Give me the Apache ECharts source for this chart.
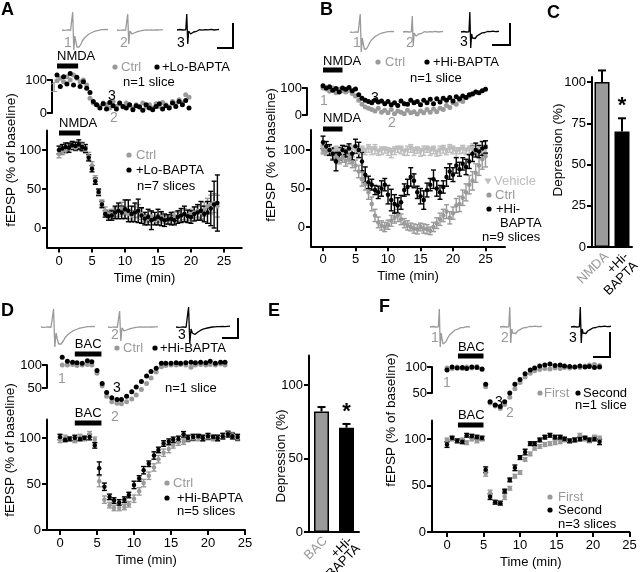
<!DOCTYPE html>
<html>
<head>
<meta charset="utf-8">
<script src="https://cdn.jsdelivr.net/npm/echarts@6/dist/echarts.min.js"></script>
<style>
  html, body { margin: 0; padding: 0; background: #fff; }
  #chart { width: 640px; height: 572px; }
</style>
</head>
<body>
<div id="chart"></div>
<script>
// ---- tick labels ----
const timeTicks = [0, 5, 10, 15, 20, 25];
const pctTicks = [0, 50, 100];

// ---- panel A, single slice (Ctrl / +Lo-BAPTA) ----
const aTopTime = [0,0.5,1,1.5,2,2.5,3,3.5,4,4.5,5,5.5,6,6.5,7,7.5,8,8.5,9,9.5,10,10.5,11,11.5,12,12.5,13,13.5,14,14.5,15,15.5,16,16.5,17,17.5,18,18.5,19,19.5,20];
const aTopCtrl = [98,105,95,110,100,115,105,95,100,85,45,30,25,20,30,25,15,35,20,28,18,30,22,15,25,20,30,18,25,15,28,20,32,25,18,35,28,40,30,55,48];
const aTopLo = [115,80,110,88,120,85,108,80,95,75,62,35,25,15,28,12,32,22,12,30,20,15,25,10,22,18,8,25,15,10,20,28,12,22,15,30,20,35,25,38,15];

// ---- panel A, n=7 slices ----
const aTime = [0,0.5,1,1.5,2,2.5,3,3.5,4,4.5,5,5.5,6,6.5,7,7.5,8,8.5,9,9.5,10,10.5,11,11.5,12,12.5,13,13.5,14,14.5,15,15.5,16,16.5,17,17.5,18,18.5,19,19.5,20,20.5,21,21.5,22,22.5,23,23.5,24];
const aCtrlMean = [95,98,100,102,104,103,105,106,100,92,80,62,45,32,22,18,18,20,22,25,20,18,16,20,22,18,14,12,15,10,12,14,11,10,12,15,14,16,18,16,18,20,22,20,24,28,30,32,28];
const aCtrlSem = [5,4,4,5,4,4,5,4,4,5,5,5,4,4,5,5,6,6,7,8,7,6,6,7,8,7,6,5,6,5,5,6,5,5,6,6,6,7,7,6,6,7,8,8,9,10,12,12,14];
const aLoMean = [100,102,104,103,106,105,107,104,102,90,76,60,46,30,18,15,16,20,22,20,24,22,18,20,22,16,12,14,10,12,14,12,10,11,12,10,14,16,18,15,14,18,20,22,18,20,25,30,32];
const aLoSem = [5,5,5,6,5,5,6,5,5,4,4,4,4,4,4,5,6,8,10,8,12,14,10,12,15,10,8,10,12,8,10,9,8,6,8,6,8,9,10,8,8,9,10,12,10,14,22,30,36];

// ---- panel B, single slice (Ctrl / +Hi-BAPTA) ----
const bTopTime = [0,0.5,1,1.5,2,2.5,3,3.5,4,4.5,5,5.5,6,6.5,7,7.5,8,8.5,9,9.5,10,10.5,11,11.5,12,12.5,13,13.5,14,14.5,15,15.5,16,16.5,17,17.5,18,18.5,19,19.5,20,20.5,21,21.5,22,22.5,23,23.5,24,24.5,25];
const bTopHi = [108,100,105,92,98,85,100,95,102,90,96,75,62,55,50,45,55,48,52,42,50,38,45,35,52,42,40,55,45,50,38,55,45,58,42,60,48,62,55,65,52,68,60,70,65,75,78,85,82,90,95];
const bTopCtrl = [100,96,88,100,82,95,90,85,92,80,70,55,40,30,25,20,15,25,10,18,8,20,5,15,10,5,18,8,12,4,15,8,20,10,22,12,25,20,35,28,45,40,55,50,65,70,80,85];

// ---- panel B, n=9 slices (Vehicle / Ctrl / +Hi-BAPTA) ----
const bTime = bTopTime;
const bVehMean = [102,98,100,97,101,99,96,100,98,101,99,97,100,98,102,99,101,97,99,100,98,96,99,101,100,97,99,102,98,100,97,99,101,98,100,96,99,101,98,102,100,97,99,101,98,100,102,99,101,98,100];
const bVehSem = [5,4,6,5,4,5,6,4,5,5,4,6,5,4,5,5,6,4,5,4,5,6,5,4,5,4,6,5,5,4,5,6,4,5,5,4,6,5,4,5,5,6,4,5,4,5,6,5,4,5,5];
const bCtrlMean = [100,98,100,95,92,88,90,86,88,84,80,72,62,56,45,30,15,6,2,0,3,8,12,15,10,5,2,0,-2,-3,0,-2,-3,-5,0,5,10,15,20,12,18,28,30,38,45,55,60,70,80,88,92];
const bCtrlSem = [5,5,6,6,7,6,6,7,6,7,7,8,9,8,9,9,8,7,6,6,6,7,7,8,7,6,6,5,6,6,5,6,6,5,6,7,8,8,9,8,8,9,10,10,11,12,12,12,13,13,14];
const bHiMean = [110,105,100,95,85,95,100,98,102,95,105,100,85,68,58,55,48,45,50,55,42,35,30,28,32,48,52,65,60,45,40,35,48,55,62,50,45,52,65,72,68,80,75,82,78,85,95,100,98,102,104];
const bHiSem = [8,6,7,8,12,8,6,7,6,8,9,10,12,10,8,7,6,8,10,8,12,14,12,10,9,8,10,12,9,8,10,12,9,8,12,10,9,8,12,10,9,10,9,8,10,9,10,9,8,9,8];

// ---- panel C ----
const cLabels = ['NMDA', '+Hi-\nBAPTA'];
const cMeans = [100, 70];
const cSem = [7, 8];
const cSig = ['', '*'];

// ---- panel D, single slice ----
const dTopTime = [0.3,1,1.7,2.3,3,3.7,4.3,5,5.7,6.3,7,7.7,8.3,9,9.7,10.3,11,11.7,12.3,13,13.7,14.3,15,15.7,16.3,17,17.7,18.3,19,19.7,20.3,21,21.7,22.3];
const dTopHi = [117,108,106,105,104,109,107,88,60,40,29,25,25,32,42,52,64,76,86,93,104,104,104,105,104,105,106,105,106,105,108,104,106,106];
const dTopCtrl = [100,100,101,99,100,101,100,82,55,32,20,17,16,20,26,35,47,60,72,85,96,99,100,100,101,100,95,100,101,100,101,100,102,100];

// ---- panel D, n=5 slices ----
const dTime = [0,0.7,1.3,2,2.7,3.3,4,4.7,5.3,6,6.7,7.3,8,8.7,9.3,10,10.7,11.3,12,12.7,13.3,14,14.7,15.3,16,16.7,17.3,18,18.7,19.3,20,20.7,21.3,22,22.7,23.3,24];
const dHiMean = [101,98,99,100,99,100,101,92,67,47,36,32,30,33,38,49,56,65,72,81,87,94,96,98,99,104,100,101,102,100,102,101,100,102,104,102,101];
const dHiSem = [3,2,2,3,2,2,3,3,7,4,3,3,3,3,3,4,3,4,3,4,3,3,3,3,3,3,3,3,2,3,3,2,3,3,3,3,3];
const dCtrlMean = [98,100,99,98,101,99,104,98,53,33,27,24,24,25,28,34,42,51,59,68,77,84,88,92,95,96,99,100,100,100,101,100,100,102,105,103,100];
const dCtrlSem = [3,3,2,3,3,2,3,3,6,4,3,3,3,3,3,4,4,4,4,4,4,4,4,3,3,3,3,3,3,3,3,3,3,3,3,3,3];

// ---- panel E ----
const eLabels = ['BAC', '+Hi-\nBAPTA'];
const eMeans = [82, 71];
const eSem = [3, 2.5];
const eSig = ['', '*'];

// ---- panel F (First / Second application) ----
const fTime = [0,0.7,1.4,2.1,2.7,3.4,4.1,4.8,5.3,5.9,6.6,7.3,7.9,8.6,9.3,10,10.7,11.4,12,12.7,13.4,14.1,14.8,15.5,16.1,16.8,17.5,18.2,18.9,19.5,20.2,20.9];
const fTopSecond = [94,100,98,99,97,100,99,96,67,33,27,24,33,50,67,76,87,94,98,102,104,106,103,104,102,101,100,102,100,101,99,100];
const fTopFirst = [98,97,100,97,100,98,101,95,62,31,25,20,28,42,58,70,81,88,93,95,97,96,98,97,99,98,100,99,102,104,105,103];
const fSecondMean = [94,101,98,97,104,103,102,101,67,38,32,31,44,56,69,80,86,95,95,99,102,104,102,102,100,98,99,100,101,99,100,97];
const fSecondSem = [3,2,2,2,2,2,2,2,3,3,2,2,2,2,3,2,3,2,2,2,2,2,2,2,2,2,2,2,2,2,2,3];
const fFirstMean = [99,100,98,99,96,100,98,100,63,42,32,31,38,47,60,64,78,84,90,92,94,95,96,97,99,98,99,104,100,98,102,101];
const fFirstSem = [2,2,2,2,2,2,2,2,3,3,2,2,3,2,2,2,2,2,2,2,2,2,2,2,2,2,2,2,2,2,2,2];

// ---- example field potential traces ----
const traceBase = [0,0.4,-0.3,0.5,-0.2,0.3,0,0.5,-0.3,0.2,18,-20,-6,-12,-17,-18,-17,-15,-13.5,-11,-10,-8,-7.5,-6,-5.5,-4.2,-4,-3,-3.2,-2,-2.2,-1.2,-1.5,-0.6,-1,-0.2,-0.6,0.3,-0.3,0.4,0,0.5,0.1,0.4];
const traceDep = [0,0.4,-0.3,0.5,-0.2,0.3,0,0.5,-0.3,0.2,16,-14,-1,-3,-4,-3.5,-3,-2,-2.2,-1,-1.3,-0.3,-0.8,0.3,-0.4,0.5,-0.2,0.6,0,0.4,-0.2,0.6,0.1,0.5,-0.1,0.6,0.2,0.5,0,0.6,0.2,0.4,0.1,0.5];
const tracePart = [0,0.4,-0.3,0.5,-0.2,0.3,0,0.5,-0.3,0.2,20,-16,-2,-6,-8,-7.5,-6.5,-5.5,-4,-3.8,-2.5,-2.4,-1.5,-1.6,-0.8,-1,-0.2,-0.5,0.3,0,0.5,0.2,0.7,0.3,0.6,0.4,0.8,0.5,0.7,0.4,0.8,0.6,0.5,0.8];

const FONT = '"Liberation Sans", Arial, Helvetica, sans-serif';
const GRAY = '#9a9a9a', LIGHT = '#bdbdbd', BLACK = '#000';

const grids = [], xAxis = [], yAxis = [], series = [], graphics = [];

function addGrid(left, top, width, height) {
  grids.push({left, top, width, height, containLabel: false, outerBoundsMode: 'none'});
  return grids.length - 1;
}
function hidden(gi, min, max) {
  return {gridIndex: gi, type: 'value', min, max, show: false};
}
// grid laid out from the pixel of value 0 and the pixels per unit
function plotGrid(p, xOpt, yOpt) {
  const gi = addGrid(p.x0 + p.tmin * p.kx, p.y0 - p.vmax * p.ky, (p.tmax - p.tmin) * p.kx, (p.vmax - p.vmin) * p.ky);
  xAxis.push(Object.assign(hidden(gi, p.tmin, p.tmax), xOpt || {}));
  yAxis.push(Object.assign(hidden(gi, p.vmin, p.vmax), yOpt || {}));
  return gi;
}
const axLine = {show: true, onZero: false, lineStyle: {color: '#000', width: 2}};
const axTick = (vals) => ({show: true, length: 5, customValues: vals, lineStyle: {color: '#000', width: 2}});
const axLabel = (vals, margin) => ({show: true, customValues: vals, fontSize: 13, fontFamily: FONT, color: '#000', margin: margin || 7});

function timeAxis() {
  return {show: true, name: 'Time (min)', nameLocation: 'middle', nameGap: 24,
    nameTextStyle: {fontSize: 13, fontFamily: FONT, color: '#000'},
    axisLine: axLine, axisTick: axTick(timeTicks), axisLabel: axLabel(timeTicks), splitLine: {show: false}};
}
function pctAxis() {
  return {show: true, axisLine: axLine, axisTick: axTick(pctTicks), axisLabel: axLabel(pctTicks, 6), splitLine: {show: false}};
}
// floating scale bracket next to a single-slice plot
function bracket(left, y0, ky, lo, hi) {
  const gi = addGrid(left, y0 - hi * ky, 10, (hi - lo) * ky);
  xAxis.push(hidden(gi, 0, 1));
  yAxis.push({gridIndex: gi, type: 'value', min: lo, max: hi, axisLine: axLine,
    axisTick: axTick([lo, hi]), axisLabel: axLabel([lo, hi], 5), splitLine: {show: false}});
}

function dots(gi, times, vals, color, size, symbol) {
  series.push({type: 'scatter', xAxisIndex: gi, yAxisIndex: gi, silent: true, z: 4,
    symbol: symbol || 'circle', symbolSize: size,
    data: times.map((t, i) => [t, vals[i]]), itemStyle: {color, opacity: 1}});
}
function errBars(gi, times, means, sems, color) {
  series.push({type: 'custom', xAxisIndex: gi, yAxisIndex: gi, silent: true, z: 3, clip: false,
    data: times.map((t, i) => [t, means[i], sems[i]]), encode: {x: 0, y: 1},
    renderItem: (params, api) => {
      const t = api.value(0), m = api.value(1), e = api.value(2);
      const lo = api.coord([t, m - e]), hi = api.coord([t, m + e]);
      const st = {stroke: color, lineWidth: 1.4};
      return {type: 'group', children: [
        {type: 'line', shape: {x1: lo[0], y1: lo[1], x2: hi[0], y2: hi[1]}, style: st},
        {type: 'line', shape: {x1: hi[0] - 2.5, y1: hi[1], x2: hi[0] + 2.5, y2: hi[1]}, style: st},
        {type: 'line', shape: {x1: lo[0] - 2.5, y1: lo[1], x2: lo[0] + 2.5, y2: lo[1]}, style: st}
      ]};
    }});
}
function meanSeries(gi, times, means, sems, color, size, symbol) {
  errBars(gi, times, means, sems, color);
  dots(gi, times, means, color, size, symbol);
}
// drug application bar drawn on the time scale
function drug(gi, win, barY, textY, label) {
  series.push({type: 'custom', xAxisIndex: gi, yAxisIndex: gi, silent: true, z: 5, clip: false,
    data: [win], encode: {x: [0, 1]},
    renderItem: (params, api) => {
      const x1 = api.coord([api.value(0), 0])[0], x2 = api.coord([api.value(1), 0])[0];
      return {type: 'group', children: [
        {type: 'rect', shape: {x: x1, y: barY - 2.5, width: x2 - x1, height: 5}, style: {fill: '#000'}},
        {type: 'text', x: x1, y: textY, style: {text: label, fill: '#000', font: '13px ' + FONT,
          textAlign: 'left', textVerticalAlign: 'middle', align: 'left', verticalAlign: 'middle'}}
      ]};
    }});
}
function trace(left, top, width, arr, color) {
  const gi = addGrid(left, top, width, 42);
  xAxis.push(hidden(gi, 0, arr.length - 1));
  yAxis.push(hidden(gi, -21, 21));
  series.push({type: 'line', xAxisIndex: gi, yAxisIndex: gi, silent: true, showSymbol: false, z: 2,
    data: arr.map((v, i) => [i, v]), lineStyle: {color, width: 1.3}});
}
function barPanel(left, width, y0, ky, vmax, ticks, labels, means, sems, sig, lh) {
  const colors = [GRAY, BLACK];
  const gi = addGrid(left, y0 - vmax * ky, width, vmax * ky);
  xAxis.push({gridIndex: gi, type: 'category', data: labels, axisLine: axLine, axisTick: {show: false},
    axisLabel: {rotate: 45, interval: 0, fontSize: 13, fontFamily: FONT, lineHeight: lh, margin: 3,
      verticalAlign: 'top', color: (v, i) => colors[i]}});
  yAxis.push({gridIndex: gi, type: 'value', min: 0, max: vmax, axisLine: axLine,
    axisTick: axTick(ticks), axisLabel: axLabel(ticks, 6), splitLine: {show: false}});
  series.push({type: 'bar', xAxisIndex: gi, yAxisIndex: gi, silent: true, barWidth: 15, z: 2,
    data: means.map((m, i) => ({value: m, itemStyle: {color: colors[i], borderColor: '#000', borderWidth: 1.5}}))});
  series.push({type: 'custom', xAxisIndex: gi, yAxisIndex: gi, silent: true, z: 3, clip: false,
    data: means.map((m, i) => [i, m, sems[i]]), encode: {x: 0, y: 1},
    renderItem: (params, api) => {
      const i = api.value(0), m = api.value(1), e = api.value(2);
      const lo = api.coord([i, m]), hi = api.coord([i, m + e]);
      const st = {stroke: '#000', lineWidth: 2};
      const kids = [
        {type: 'line', shape: {x1: lo[0], y1: lo[1], x2: hi[0], y2: hi[1]}, style: st},
        {type: 'line', shape: {x1: hi[0] - 4, y1: hi[1], x2: hi[0] + 4, y2: hi[1]}, style: st}
      ];
      if (sig[params.dataIndex]) {
        kids.push({type: 'text', x: hi[0], y: hi[1] - 1, style: {text: sig[params.dataIndex], fill: '#000',
          font: 'bold 22px ' + FONT, textAlign: 'center', textVerticalAlign: 'bottom', align: 'center', verticalAlign: 'bottom'}});
      }
      return {type: 'group', children: kids};
    }});
}

// ---- graphic helpers (labels, legends, scale bars) ----
function txt(x, y, s, o) {
  o = o || {};
  const al = o.align || 'left', va = o.valign || 'middle';
  graphics.push({type: 'text', x, y, rotation: o.rot || 0, z: 100, silent: true, style: {
    text: s, fill: o.color || '#000', font: (o.bold ? 'bold ' : '') + (o.size || 13) + 'px ' + FONT,
    textAlign: al, textVerticalAlign: va, align: al, verticalAlign: va}});
}
function dot(x, y, color) {
  graphics.push({type: 'circle', z: 100, silent: true, shape: {cx: x, cy: y, r: 2.6}, style: {fill: color}});
}
function tri(x, y, color) {
  graphics.push({type: 'polygon', z: 100, silent: true, shape: {points: [[x - 3.5, y - 2.5], [x + 3.5, y - 2.5], [x, y + 3.5]]}, style: {fill: color}});
}
function scaleBar(pts) {
  graphics.push({type: 'polyline', z: 100, silent: true, shape: {points: pts}, style: {stroke: '#000', lineWidth: 2, fill: null}});
}
const yTitle = (x, y, s) => txt(x, y, s, {rot: Math.PI / 2, align: 'center', size: 13.5});

// ================= Panel A =================
trace(62, 9, 46, traceBase, GRAY);
trace(117, 9, 46, traceDep, GRAY);
trace(177, 9, 42, traceDep, BLACK);
scaleBar([[217, 48], [233, 48], [233, 23]]);
txt(64, 43, '1', {color: GRAY, size: 14}); txt(120, 43, '2', {color: GRAY, size: 14}); txt(177, 43, '3', {size: 14});

const aTop = plotGrid({x0: 57, kx: 6.6, tmin: -2, tmax: 27, y0: 113, ky: 0.33, vmin: -30, vmax: 145});
bracket(52, 113, 0.33, 0, 100);
dots(aTop, aTopTime, aTopCtrl, GRAY, 5);
dots(aTop, aTopTime, aTopLo, BLACK, 5);
drug(aTop, [0, 3.2], 66, 56, 'NMDA');
txt(50, 88, '1', {color: GRAY, size: 14}); txt(108, 96, '3', {size: 14}); txt(110, 118, '2', {color: GRAY, size: 14});
dot(115, 67, GRAY); txt(121, 67, 'Ctrl', {color: GRAY});
dot(157, 67, BLACK); txt(162, 67, '+Lo-BAPTA');
txt(123, 82, 'n=1 slice');

const aBot = plotGrid({x0: 59, kx: 6.6, tmin: -1.8, tmax: 27.7, y0: 228, ky: 0.78, vmin: -25, vmax: 125}, timeAxis(), pctAxis());
meanSeries(aBot, aTime, aCtrlMean, aCtrlSem, GRAY, 4.5);
meanSeries(aBot, aTime, aLoMean, aLoSem, BLACK, 4.5);
drug(aBot, [0, 3.2], 133, 123, 'NMDA');
dot(129, 155, GRAY); txt(136, 155, 'Ctrl', {color: GRAY});
dot(129, 170, BLACK); txt(136, 170, '+Lo-BAPTA');
txt(137, 186, 'n=7 slices');
yTitle(11, 160, 'fEPSP (% of baseline)');
txt(1, 1, 'A', {bold: true, size: 18, valign: 'top'});

// ================= Panel B =================
trace(350, 11, 44, traceBase, GRAY);
trace(403, 11, 40, traceDep, GRAY);
trace(461, 11, 38, tracePart, BLACK);
scaleBar([[492, 45], [510, 45], [510, 23]]);
txt(353, 43, '1', {color: GRAY, size: 14}); txt(406, 43, '2', {color: GRAY, size: 14}); txt(460, 42, '3', {size: 14});

const bTop = plotGrid({x0: 323, kx: 6.5, tmin: -2, tmax: 28, y0: 115, ky: 0.27, vmin: -40, vmax: 150});
bracket(307, 115, 0.27, 0, 100);
dots(bTop, bTopTime.slice(0, bTopCtrl.length), bTopCtrl, GRAY, 5);
dots(bTop, bTopTime, bTopHi, BLACK, 5);
drug(bTop, [0, 3], 70, 61, 'NMDA');
txt(320, 101, '1', {color: GRAY, size: 14}); txt(371, 98, '3', {size: 14}); txt(388, 123, '2', {color: GRAY, size: 14});
dot(378, 62, GRAY); txt(385, 62, 'Ctrl', {color: GRAY});
dot(427, 62, BLACK); txt(433, 62, '+Hi-BAPTA');
txt(410, 78, 'n=1 slice');

const bBot = plotGrid({x0: 323, kx: 6.5, tmin: -1.85, tmax: 28, y0: 227, ky: 0.77, vmin: -25, vmax: 126}, timeAxis(), pctAxis());
meanSeries(bBot, bTime, bVehMean, bVehSem, LIGHT, 6, 'triangle');
series[series.length - 1].symbolRotate = 180;
meanSeries(bBot, bTime, bCtrlMean, bCtrlSem, GRAY, 4.5);
meanSeries(bBot, bTime, bHiMean, bHiSem, BLACK, 4.5);
drug(bBot, [0, 3], 129, 118, 'NMDA');
tri(488, 181, LIGHT); txt(494, 181, 'Vehicle', {color: LIGHT});
dot(489, 195, GRAY); txt(495, 195, 'Ctrl', {color: GRAY});
dot(489, 209, BLACK); txt(496, 209, '+Hi-');
txt(500, 223, 'BAPTA');
txt(482, 237, 'n=9 slices');
yTitle(271, 155, 'fEPSP (% of baseline)');
txt(320, 1, 'B', {bold: true, size: 18, valign: 'top'});

// ================= Panel C =================
barPanel(592, 40, 247, 1.65, 103, [0, 25, 50, 75, 100], cLabels, cMeans, cSem, cSig, 13);
yTitle(558, 150, 'Depression (%)');
txt(547, 4, 'C', {bold: true, size: 18, valign: 'top'});

// ================= Panel D =================
trace(41, 306, 54, traceBase, GRAY);
trace(108, 306, 50, traceDep, GRAY);
trace(176, 306, 54, tracePart, BLACK);
scaleBar([[222, 338], [238, 338], [238, 318]]);
txt(111, 335, '2', {color: GRAY, size: 14}); txt(178, 335, '3', {size: 14});

const dTop = plotGrid({x0: 60, kx: 7.4, tmin: -2, tmax: 25, y0: 411, ky: 0.46, vmin: 0, vmax: 130});
bracket(47, 411, 0.46, 50, 100);
dots(dTop, dTopTime, dTopCtrl, GRAY, 5);
dots(dTop, dTopTime, dTopHi, BLACK, 5);
drug(dTop, [2, 5.6], 354, 344, 'BAC');
txt(58, 379, '1', {color: GRAY, size: 14}); txt(113, 388, '3', {size: 14}); txt(111, 417, '2', {color: GRAY, size: 14});
dot(117, 348, GRAY); txt(123, 348, 'Ctrl', {color: GRAY});
dot(155, 348, BLACK); txt(160, 348, '+Hi-BAPTA');
txt(165, 388, 'n=1 slice');

const dBot = plotGrid({x0: 60, kx: 7.4, tmin: -1.75, tmax: 25, y0: 530, ky: 0.92, vmin: 0, vmax: 120}, timeAxis(), pctAxis());
meanSeries(dBot, dTime, dCtrlMean, dCtrlSem, GRAY, 4.5);
meanSeries(dBot, dTime, dHiMean, dHiSem, BLACK, 4.5);
drug(dBot, [2, 5.6], 423, 413, 'BAC');
dot(167, 483, GRAY); txt(173, 483, 'Ctrl', {color: GRAY});
dot(167, 498, BLACK); txt(177, 498, '+Hi-BAPTA');
txt(177, 511, 'n=5 slices');
yTitle(10, 450, 'fEPSP (% of baseline)');
txt(1, 302, 'D', {bold: true, size: 18, valign: 'top'});

// ================= Panel E =================
barPanel(309, 50, 532, 1.47, 120, [0, 50, 100], eLabels, eMeans, eSem, eSig, 11);
yTitle(281, 456, 'Depression (%)');
txt(268, 302, 'E', {bold: true, size: 18, valign: 'top'});

// ================= Panel F =================
trace(430, 306, 40, traceBase, GRAY);
trace(500, 306, 42, tracePart, GRAY);
trace(571, 306, 40, tracePart, BLACK);
scaleBar([[593, 357], [610, 357], [610, 332]]);
txt(431, 338, '1', {color: GRAY, size: 14}); txt(501, 338, '2', {color: GRAY, size: 14}); txt(569, 338, '3', {size: 14});

const fTop = plotGrid({x0: 447, kx: 7.3, tmin: -2, tmax: 25, y0: 419, ky: 0.52, vmin: 0, vmax: 125});
bracket(432, 419, 0.52, 50, 100);
dots(fTop, fTime, fTopFirst, GRAY, 5);
dots(fTop, fTime, fTopSecond, BLACK, 5);
drug(fTop, [1.5, 5], 356, 347, 'BAC');
txt(443, 383, '1', {color: GRAY, size: 14}); txt(495, 402, '3', {size: 14}); txt(506, 413, '2', {color: GRAY, size: 14});
dot(540, 393, GRAY); txt(544, 393, 'First', {color: GRAY});
dot(578, 393, BLACK); txt(583, 393, 'Second');
txt(575, 405, 'n=1 slice');

const fBot = plotGrid({x0: 447, kx: 7.3, tmin: -2.05, tmax: 25, y0: 532, ky: 0.93, vmin: 0, vmax: 120}, timeAxis(), pctAxis());
meanSeries(fBot, fTime, fFirstMean, fFirstSem, GRAY, 4.5);
meanSeries(fBot, fTime, fSecondMean, fSecondSem, BLACK, 4.5);
drug(fBot, [1.5, 5], 425, 415, 'BAC');
dot(550, 497, GRAY); txt(558, 497, 'First', {color: GRAY});
dot(550, 510, BLACK); txt(558, 510, 'Second');
txt(558, 524, 'n=3 slices');
yTitle(391, 420, 'fEPSP (% of baseline)');
txt(379, 298, 'F', {bold: true, size: 18, valign: 'top'});

const chart = echarts.init(document.getElementById('chart'));
chart.setOption({
  animation: false,
  backgroundColor: '#fff',
  textStyle: {fontFamily: FONT},
  grid: grids,
  xAxis: xAxis,
  yAxis: yAxis,
  series: series,
  graphic: {elements: graphics}
});
</script>
</body>
</html>
